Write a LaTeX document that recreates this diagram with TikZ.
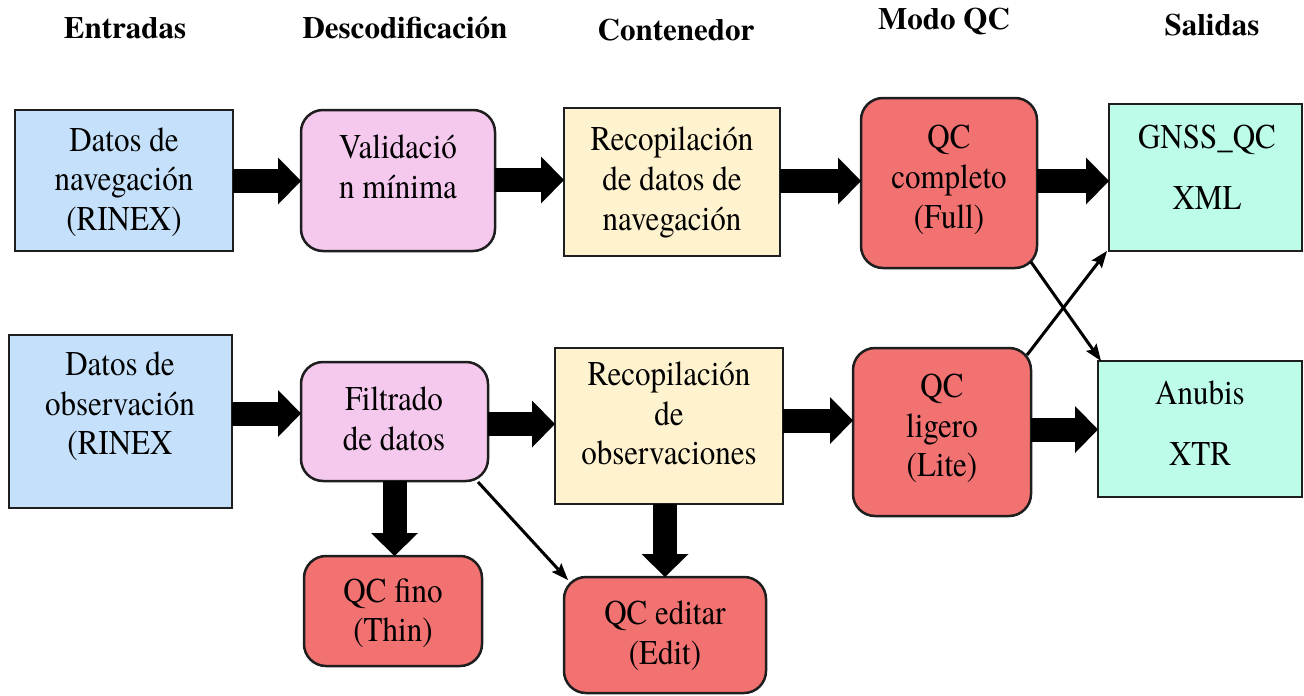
\documentclass[tikz,border=0pt]{standalone}
\usepackage{fontspec}
\usepackage{graphicx}
\IfFontExistsTF{texgyretermes-regular.otf}{%
  \setmainfont{texgyretermes}[Extension=.otf, UprightFont=*-regular, BoldFont=*-bold, ItalicFont=*-italic, BoldItalicFont=*-bolditalic]%
}{%
  \setmainfont{Liberation Serif}%
}
\usetikzlibrary{arrows.meta}
\definecolor{cblue}{RGB}{197,224,250}
\definecolor{cpink}{RGB}{245,200,238}
\definecolor{cyel}{RGB}{255,242,206}
\definecolor{cred}{RGB}{242,114,114}
\definecolor{ccyan}{RGB}{190,252,234}
\definecolor{cline}{RGB}{30,30,30}
\newcommand{\stxt}[1]{\scalebox{1}[1.12]{\begin{tabular}{@{}c@{}}#1\end{tabular}}}
\tikzset{
  base/.style={draw=cline, line width=2.5pt, inner sep=0pt, outer sep=0pt},
  sqbox/.style={base},
  rbox/.style={base, rounded corners=22pt},
  txt/.style={font=\rmfamily\mdseries\upshape\fontsize{31}{35.7}\selectfont, inner sep=0pt},
  hdr/.style={font=\rmfamily\bfseries\fontsize{31}{36}\selectfont, inner sep=0pt},
  bigarrow/.style={line width=24pt, -{Triangle[length=23pt,width=47pt,line width=0pt]}},
  thinarrow/.style={line width=3pt, -{Stealth[length=17pt,width=13pt,inset=3pt,line width=0pt]}},
}
\begin{document}
\begin{tikzpicture}[x=1pt,y=-1pt]
\useasboundingbox (0,0) rectangle (1304,696);
% headers
\node[hdr] (h1) at (125,28) {Entradas};
\node[hdr] (h2) at (405,28) {Descodificación};
\node[hdr] (h3) at (676,30) {Contenedor};
\node[hdr] (h4) at (944,22) {Modo QC};
\node[hdr] (h5) at (1212,25) {Salidas};
% row 1 boxes
\node[sqbox, fill=cblue, minimum width=218pt, minimum height=141pt] (nav) at (124,180.5) {};
\node[rbox, fill=cpink, minimum width=194pt, minimum height=141pt] (val) at (398,180.5) {};
\node[sqbox, fill=cyel, minimum width=216pt, minimum height=148pt] (navc) at (672,182) {};
\node[rbox, fill=cred, minimum width=176pt, minimum height=170pt] (full) at (949,183) {};
\node[sqbox, fill=ccyan, minimum width=193pt, minimum height=147pt] (gnss) at (1205.5,177.5) {};
% row 2 boxes
\node[sqbox, fill=cblue, minimum width=223pt, minimum height=173pt] (obs) at (120.5,421.5) {};
\node[rbox, fill=cpink, minimum width=187pt, minimum height=119pt] (filt) at (394.5,421.5) {};
\node[sqbox, fill=cyel, minimum width=228pt, minimum height=156pt] (obsc) at (669,426) {};
\node[rbox, fill=cred, minimum width=178pt, minimum height=168pt] (lite) at (942,432) {};
\node[sqbox, fill=ccyan, minimum width=204pt, minimum height=136pt] (anubis) at (1200,429) {};
% row 3 boxes
\node[rbox, fill=cred, minimum width=178pt, minimum height=110pt] (thin) at (393,611) {};
\node[rbox, fill=cred, minimum width=202pt, minimum height=116pt] (edit) at (665,635) {};
% texts
\node[txt] (tnav) at (124,183) {\stxt{Datos de\\navegación\\(RINEX)}};
\node[txt] (tval) at (398,170.5) {\stxt{Validació\\n mínima}};
\node[txt] (tnavc) at (672,182.5) {\stxt{Recopilación\\de datos de\\navegación}};
\node[txt] (tfull) at (949,180.5) {\stxt{QC\\completo\\(Full)}};
\node[txt] (tgnss) at (1207,171) {\stxt{GNSS\_QC\\[19pt]XML}};
\node[txt] (tobs) at (120,407) {\stxt{Datos de\\observación\\(RINEX}};
\node[txt] (tfilt) at (394,422.5) {\stxt{Filtrado\\de datos}};
\node[txt] (tobsc) at (669,417) {\stxt{Recopilación\\de\\observaciones}};
\node[txt] (tlite) at (942,429) {\stxt{QC\\ligero\\(Lite)}};
\node[txt] (tanubis) at (1200,427) {\stxt{Anubis\\[19pt]XTR}};
\node[txt] (tthin) at (393,614) {\stxt{QC fino\\(Thin)}};
\node[txt] (tedit) at (665,636.5) {\stxt{QC editar\\(Edit)}};
% thick arrows
\draw[bigarrow] (nav.east |- 0,181) -- (val.west |- 0,181);
\draw[bigarrow] (val.east |- 0,180) -- (navc.west |- 0,180);
\draw[bigarrow] (navc.east |- 0,181) -- (full.west |- 0,181);
\draw[bigarrow] (full.east |- 0,181) -- (gnss.west |- 0,181);
\draw[bigarrow] (obs.east |- 0,413.5) -- (filt.west |- 0,413.5);
\draw[bigarrow] (filt.east |- 0,424) -- (obsc.west |- 0,424);
\draw[bigarrow] (obsc.east |- 0,420.5) -- (lite.west |- 0,420.5);
\draw[bigarrow] (lite.east |- 0,429.5) -- (anubis.west |- 0,429.5);
\draw[bigarrow] (filt.south) -- (filt.south |- thin.north);
\draw[bigarrow] (edit.north |- obsc.south) -- (edit.north);
% thin arrows
\draw[thinarrow] ([xshift=-6pt,yshift=6pt]full.south east) -- ([xshift=3pt]anubis.north west);
\draw[thinarrow] ([xshift=-4pt,yshift=-7pt]lite.north east) -- ([xshift=-2pt]gnss.south west);
\draw[thinarrow] ([xshift=-10pt,yshift=-1pt]filt.south east) -- ([xshift=4pt,yshift=-3pt]edit.north west);
\end{tikzpicture}
\end{document}
